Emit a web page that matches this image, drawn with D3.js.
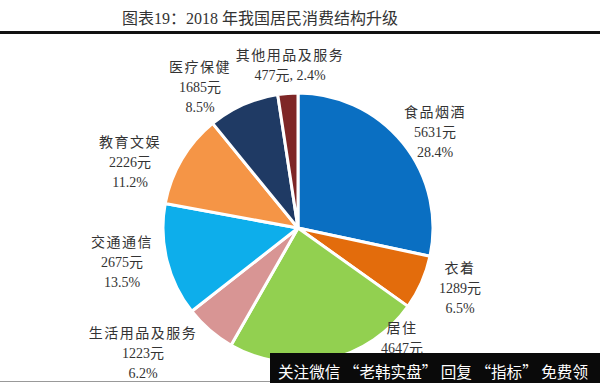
<!DOCTYPE html>
<html><head><meta charset="utf-8">
<script src="https://cdn.jsdelivr.net/npm/d3@7"></script>
<style>
html,body{margin:0;padding:0;background:#fff;}
svg{display:block;}
</style></head>
<body>
<svg id="chart" width="600" height="383"></svg>
<script>
const categories = ["食品烟酒","衣着","居住","生活用品及服务","交通通信","教育文娱","医疗保健","其他用品及服务"];
const values = [5631,1289,4647,1223,2675,2226,1685,477];
const percents = ["28.4%","6.5%","23.4%","6.2%","13.5%","11.2%","8.5%","2.4%"];
const colors = ["#0A6FC2","#E36C0C","#92D050","#D89594","#0DAEEB","#F59546","#1F3A64","#7E2626"];
// label anchor (centre x, first line centre y) – layout only
const labelPos = [[435,112],[460,268],[402,328],[143,333],[122,242],[130,142],[200,67],[290,55]];

const svg = d3.select("#chart");
const serif = "'Liberation Serif','Noto Sans CJK SC',serif";

svg.append("text").attr("x",260).attr("y",18).attr("text-anchor","middle")
  .attr("dominant-baseline","central")
  .attr("font-family",serif).attr("font-size",16).attr("fill","#333")
  .text("图表19：2018 年我国居民消费结构升级");
svg.append("rect").attr("x",0).attr("y",31).attr("width",600).attr("height",3).attr("fill","#111");

const cx = 298, cy = 228, r = 135;
const pie = d3.pie().sort(null).value(d=>d.v);
const data = categories.map((c,i)=>({c, v:values[i], p:percents[i], col:colors[i], pos:labelPos[i]}));
const arcs = pie(data);
const arc = d3.arc().innerRadius(0).outerRadius(r);
const g = svg.append("g").attr("transform",`translate(${cx},${cy})`);
g.selectAll("path").data(arcs).join("path")
  .attr("d",arc).attr("fill",d=>d.data.col)
  .attr("stroke","#fff").attr("stroke-width",3).attr("stroke-linejoin","round");

const lab = svg.append("g").attr("font-family",serif).attr("font-size",14).attr("fill","#333")
  .attr("text-anchor","middle");
data.forEach((d,i)=>{
  let lines;
  if (i===7) lines = [d.c, d.v+"元, "+d.p];
  else if (i===2) lines = [d.c, d.v+"元"]; // third line hidden under overlay in reference
  else lines = [d.c, d.v+"元", d.p];
  lines.forEach((t,j)=>{
    lab.append("text").attr("x",d.pos[0]).attr("y",d.pos[1]+j*20)
      .attr("dominant-baseline","central")
      .attr("letter-spacing", j===0 ? 1.5 : 0)
      .text(t);
  });
});

// watermark overlay present in the reference
svg.append("line").attr("x1",0).attr("x2",270).attr("y1",381.5).attr("y2",381.5)
  .attr("stroke","#999").attr("stroke-width",1);
svg.append("rect").attr("x",270).attr("y",353).attr("width",330).attr("height",30).attr("fill","#0a0a0a");
svg.append("text").attr("x",278).attr("y",371).attr("dominant-baseline","central")
  .attr("font-family","'Noto Sans CJK SC',sans-serif").attr("font-size",16).attr("fill","#fff")
  .attr("textLength",310).attr("lengthAdjust","spacingAndGlyphs")
  .text("关注微信 “老韩实盘” 回复 “指标” 免费领");
</script>
</body></html>
